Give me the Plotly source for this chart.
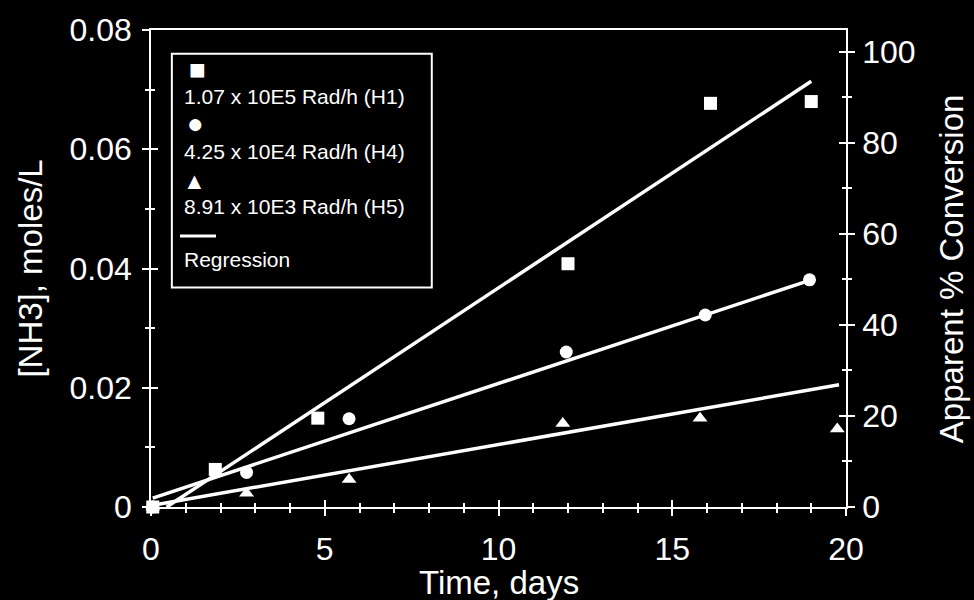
import plotly.graph_objects as go

# ---- data ----
time_h1 = [0.05, 1.85, 4.8, 12.0, 16.1, 19.0]
nh3_h1 = [0.0, 0.0063, 0.0149, 0.0408, 0.0677, 0.0680]

time_h4 = [0.05, 2.75, 5.7, 11.95, 15.95, 18.95]
nh3_h4 = [0.0, 0.0058, 0.0148, 0.0260, 0.0322, 0.0381]

time_h5 = [0.05, 2.75, 5.7, 11.85, 15.8, 19.75]
nh3_h5 = [0.0, 0.0023, 0.0046, 0.0140, 0.0149, 0.0131]

reg_h1_x = [0.45, 19.0]
reg_h1_y = [0.0, 0.0714]
reg_h4_x = [0.05, 19.0]
reg_h4_y = [0.0015, 0.0381]
reg_h5_x = [0.05, 19.8]
reg_h5_y = [0.0003, 0.0205]

legend_labels = ["1.07 x 10E5 Rad/h (H1)", "4.25 x 10E4 Rad/h (H4)",
                 "8.91 x 10E3 Rad/h (H5)", "Regression"]

x_range = [0, 20]
y_range = [0, 0.08]
y2_range = [0, 104.8]

FONT = "Liberation Sans, Arial, sans-serif"
W = "white"

fig = go.Figure()

for rx, ry in [(reg_h1_x, reg_h1_y), (reg_h4_x, reg_h4_y), (reg_h5_x, reg_h5_y)]:
    fig.add_trace(go.Scatter(x=rx, y=ry, mode="lines",
                             line=dict(color=W, width=3.5),
                             showlegend=False, hoverinfo="skip", cliponaxis=False))

for tx, ty, sym in [(time_h1, nh3_h1, "square"), (time_h4, nh3_h4, "circle"),
                    (time_h5, nh3_h5, "triangle-up")]:
    fig.add_trace(go.Scatter(x=tx, y=ty, mode="markers",
                             marker=dict(symbol=sym, color=W, size=13, line=dict(width=0)),
                             showlegend=False, cliponaxis=False))

# dummy traces to activate secondary/overlay axes
fig.add_trace(go.Scatter(x=[None], y=[None], xaxis="x", yaxis="y2", showlegend=False, hoverinfo="skip"))
fig.add_trace(go.Scatter(x=[None], y=[None], xaxis="x2", yaxis="y3", showlegend=False, hoverinfo="skip"))
fig.add_trace(go.Scatter(x=[None], y=[None], xaxis="x2", yaxis="y4", showlegend=False, hoverinfo="skip"))

tickfont = dict(family=FONT, size=32, color=W)
common = dict(showgrid=False, zeroline=False, linecolor=W, tickcolor=W, tickwidth=1.5)

fig.update_layout(
    width=974, height=600,
    margin=dict(l=151, r=128, t=25, b=93),
    paper_bgcolor="black", plot_bgcolor="black",
    font=dict(family=FONT, color=W),
    showlegend=False,
    xaxis=dict(range=x_range, dtick=5, tick0=0, ticks="outside", ticklen=7,
               showline=True, linewidth=1.5, mirror=True,
               minor=dict(dtick=1, ticks="outside", ticklen=4, tickcolor=W),
               tickfont=tickfont, ticklabelstandoff=6, **common),
    yaxis=dict(range=y_range, dtick=0.02, tick0=0, ticks="outside", ticklen=7,
               showline=True, linewidth=1.5, tickformat="~g",
               minor=dict(dtick=0.01, ticks="outside", ticklen=4, tickcolor=W),
               tickfont=tickfont, ticklabelstandoff=4, **common),
    yaxis2=dict(range=y2_range, dtick=20, tick0=0, ticks="outside", ticklen=7,
                overlaying="y", side="right", anchor="x",
                showline=True, linewidth=1.5,
                minor=dict(dtick=10, ticks="outside", ticklen=4, tickcolor=W),
                tickfont=tickfont, ticklabelstandoff=1, **common),
    xaxis2=dict(range=x_range, dtick=5, tick0=0, ticks="inside", ticklen=7,
                overlaying="x", anchor="y3", showticklabels=False, showline=False,
                minor=dict(dtick=1, ticks="inside", ticklen=4, tickcolor=W), **common),
    yaxis3=dict(range=y_range, dtick=0.02, tick0=0, ticks="inside", ticklen=7,
                overlaying="y", side="left", anchor="x2", showticklabels=False, showline=False,
                minor=dict(dtick=0.01, ticks="inside", ticklen=4, tickcolor=W), **common),
    yaxis4=dict(range=y2_range, dtick=20, tick0=0, ticks="inside", ticklen=7,
                overlaying="y", side="right", anchor="x2", showticklabels=False, showline=False,
                minor=dict(dtick=10, ticks="inside", ticklen=4, tickcolor=W), **common),
)

titlefont = dict(family=FONT, size=33, color=W)
annotations = [
    dict(text="Time, days", x=0.5, y=-0.158, xref="paper", yref="paper",
         showarrow=False, font=titlefont, xanchor="center", yanchor="middle"),
    dict(text="[NH3], moles/L", x=-0.174, y=0.5, xref="paper", yref="paper",
         showarrow=False, font=titlefont, textangle=-90, xanchor="center", yanchor="middle"),
    dict(text="Apparent % Conversion", x=1.152, y=0.5, xref="paper", yref="paper",
         showarrow=False, font=titlefont, textangle=-90, xanchor="center", yanchor="middle"),
]

# manual legend
legfont = dict(family=FONT, size=21, color=W)
text_y = [0.861, 0.745, 0.63, 0.518]
for lab, ty in zip(legend_labels, text_y):
    annotations.append(dict(text=lab, x=0.0446, y=ty, xref="paper", yref="paper",
                            showarrow=False, font=legfont, xanchor="left", yanchor="middle"))
for glyph, gx, gy, gs in [("■", 0.0662, 0.918, 28), ("●", 0.0647, 0.805, 28), ("▲", 0.0619, 0.684, 23)]:
    annotations.append(dict(text=glyph, x=gx, y=gy, xref="paper", yref="paper",
                            showarrow=False, font=dict(family=FONT, size=gs, color=W),
                            xanchor="center", yanchor="middle"))
fig.update_layout(annotations=annotations)

fig.add_shape(type="rect", xref="paper", yref="paper", x0=0.030, x1=0.404, y0=0.460, y1=0.950,
              line=dict(color=W, width=2))
fig.add_shape(type="line", xref="paper", yref="paper", x0=0.0417, x1=0.0935, y0=0.568, y1=0.568,
              line=dict(color=W, width=3))

fig.write_html("out.html")
